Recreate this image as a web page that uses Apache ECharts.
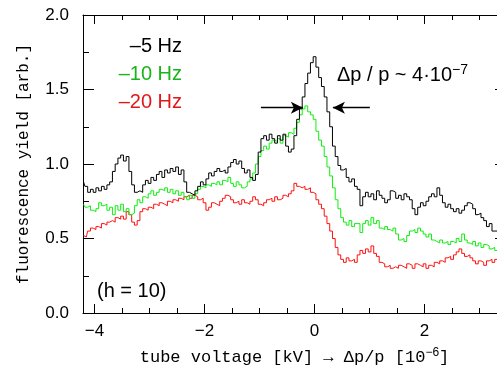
<!DOCTYPE html>
<html>
<head>
<meta charset="utf-8">
<title></title>
<style>
    * { margin: 0; padding: 0; }
    #main { width: 497px; height: 371px; background: #fff; }
</style>
</head>
<body>
<div id="main"></div>
<script src="https://cdn.jsdelivr.net/npm/echarts@6/dist/echarts.min.js"></script>
<script>
// bins of 0.05 kV starting at -4.20
var xStart = -4.20, xStep = 0.05;

var black = [
    0.88, 0.85, 0.81, 0.83, 0.81, 0.84, 0.82, 0.85, 0.83, 0.86,
    0.88, 0.95, 1.00, 1.04, 1.06, 1.02, 1.05, 0.95, 0.86, 0.81,
    0.82, 0.81, 0.86, 0.89, 0.87, 0.91, 0.89, 0.93, 0.95, 0.91,
    0.96, 0.94, 0.97, 0.95, 0.98, 0.93, 0.96, 0.88, 0.81, 0.80,
    0.79, 0.82, 0.85, 0.88, 0.86, 0.90, 0.94, 0.92, 0.95, 0.97,
    0.95, 0.96, 0.94, 0.98, 1.01, 1.03, 1.00, 1.02, 0.97, 0.94,
    0.96, 0.91, 0.89, 0.93, 1.08, 1.17, 1.19, 1.16, 1.20, 1.17,
    1.14, 1.19, 1.16, 1.20, 1.12, 1.08, 1.10, 1.19, 1.30, 1.37,
    1.45, 1.54, 1.61, 1.68, 1.72, 1.65, 1.58, 1.52, 1.45, 1.35,
    1.25, 1.12, 1.05, 0.99, 0.96, 0.97, 0.91, 0.88, 0.90, 0.85,
    0.83, 0.72, 0.78, 0.81, 0.78, 0.80, 0.76, 0.82, 0.79, 0.77,
    0.74, 0.76, 0.82, 0.81, 0.77, 0.79, 0.76, 0.80, 0.78, 0.76,
    0.70, 0.66, 0.71, 0.74, 0.72, 0.75, 0.78, 0.80, 0.78, 0.84,
    0.79, 0.74, 0.71, 0.73, 0.70, 0.68, 0.70, 0.67, 0.69, 0.72,
    0.74, 0.73, 0.70, 0.66, 0.67, 0.64, 0.62, 0.58, 0.60, 0.55,
    0.55, 0.54, 0.56, 0.53
];
var green = [
    0.73, 0.71, 0.72, 0.69, 0.68, 0.70, 0.74, 0.72, 0.73, 0.69,
    0.71, 0.66, 0.72, 0.69, 0.73, 0.68, 0.70, 0.66, 0.67, 0.72,
    0.76, 0.74, 0.78, 0.77, 0.80, 0.82, 0.79, 0.81, 0.83, 0.82,
    0.84, 0.81, 0.83, 0.80, 0.82, 0.79, 0.81, 0.78, 0.76, 0.79,
    0.77, 0.80, 0.83, 0.85, 0.84, 0.86, 0.85, 0.87, 0.86, 0.88,
    0.86, 0.89, 0.88, 0.91, 0.87, 0.85, 0.88, 0.86, 0.84, 0.85,
    0.88, 0.90, 0.94, 1.00, 1.05, 1.09, 1.12, 1.10, 1.14, 1.16,
    1.15, 1.17, 1.14, 1.19, 1.18, 1.21, 1.20, 1.24, 1.28, 1.33,
    1.37, 1.39, 1.35, 1.33, 1.30, 1.22, 1.16, 1.12, 1.05, 0.98,
    0.92, 0.84, 0.76, 0.70, 0.64, 0.61, 0.59, 0.62, 0.58, 0.60,
    0.60, 0.54, 0.60, 0.62, 0.59, 0.64, 0.60, 0.62, 0.57, 0.56,
    0.58, 0.56, 0.55, 0.57, 0.53, 0.49, 0.50, 0.48, 0.52, 0.55,
    0.56, 0.54, 0.57, 0.55, 0.53, 0.51, 0.53, 0.49, 0.48, 0.47,
    0.49, 0.47, 0.48, 0.46, 0.48, 0.47, 0.50, 0.48, 0.53, 0.49,
    0.47, 0.46, 0.48, 0.45, 0.47, 0.44, 0.46, 0.45, 0.43, 0.44,
    0.42, 0.43, 0.44, 0.42
];
var red = [
    0.52, 0.51, 0.55, 0.57, 0.56, 0.58, 0.57, 0.60, 0.59, 0.61,
    0.62, 0.61, 0.64, 0.63, 0.65, 0.63, 0.68, 0.66, 0.61, 0.59,
    0.62, 0.68, 0.70, 0.69, 0.71, 0.70, 0.73, 0.72, 0.74, 0.73,
    0.72, 0.75, 0.74, 0.76, 0.75, 0.77, 0.76, 0.78, 0.79, 0.77,
    0.79, 0.78, 0.76, 0.77, 0.74, 0.69, 0.71, 0.74, 0.73, 0.72,
    0.75, 0.77, 0.79, 0.78, 0.76, 0.74, 0.75, 0.73, 0.76, 0.74,
    0.73, 0.75, 0.78, 0.76, 0.73, 0.72, 0.74, 0.76, 0.77, 0.75,
    0.78, 0.76, 0.77, 0.79, 0.78, 0.80, 0.82, 0.87, 0.85, 0.84,
    0.85, 0.83, 0.84, 0.81, 0.80, 0.76, 0.73, 0.70, 0.65, 0.60,
    0.55, 0.50, 0.44, 0.39, 0.36, 0.34, 0.37, 0.35, 0.36, 0.34,
    0.39, 0.42, 0.40, 0.43, 0.41, 0.45, 0.40, 0.38, 0.34, 0.33,
    0.31, 0.32, 0.30, 0.31, 0.30, 0.32, 0.31, 0.30, 0.33, 0.32,
    0.30, 0.33, 0.32, 0.31, 0.33, 0.30, 0.32, 0.31, 0.34, 0.33,
    0.35, 0.34, 0.37, 0.38, 0.36, 0.39, 0.41, 0.43, 0.40, 0.38,
    0.39, 0.37, 0.35, 0.33, 0.35, 0.34, 0.32, 0.35, 0.36, 0.34,
    0.36, 0.35, 0.37, 0.36
];

var xMajor = [-4, -2, 0, 2];
var xMinor = [-3.5, -3, -2.5, -1.5, -1, -0.5, 0.5, 1, 1.5, 2.5, 3];
var xMin = -4.21, xMax = 3.48;
var yMin = 0, yMax = 2;

// width arrows (data units)
var arrowY = 1.378;
var arrowLeft = [-0.976, -0.213];
var arrowRight = [1.005, 0.333];

function pairs(vals) {
    return vals.map(function (v, i) {
        return [Math.round((xStart + i * xStep) * 100) / 100, v];
    });
}

var sans = '"Liberation Sans", Arial, sans-serif';
var mono = '"Liberation Mono", "DejaVu Sans Mono", monospace';

function xAxisDef(pos, ticks, len, withLine, withLabel) {
    return {
        type: 'value', position: pos, min: xMin, max: xMax,
        axisLine: { show: withLine, onZero: false, lineStyle: { color: '#000', width: 1 } },
        axisTick: { show: true, inside: true, length: len, customValues: ticks,
                    lineStyle: { color: '#000', width: 1 } },
        axisLabel: withLabel ? {
            show: true, customValues: ticks, margin: 10, color: '#000',
            fontFamily: sans, fontSize: 17,
            formatter: function (v) { return String(v).replace('-', '\u2212'); }
        } : { show: false },
        splitLine: { show: false }
    };
}

function yAxisDef(pos, withLabel) {
    return {
        type: 'value', position: pos, min: yMin, max: yMax, interval: 0.5,
        axisLine: { show: true, onZero: false, lineStyle: { color: '#000', width: 1 } },
        axisTick: { show: true, inside: true, length: 11, lineStyle: { color: '#000', width: 1 } },
        minorTick: { show: true, splitNumber: 2, length: 6, lineStyle: { color: '#000', width: 1 } },
        axisLabel: withLabel ? {
            show: true, margin: 14, color: '#000', fontFamily: sans, fontSize: 17,
            formatter: function (v) { return v.toFixed(1); }
        } : { show: false },
        splitLine: { show: false }
    };
}

var myChart = echarts.init(document.getElementById('main'));

var bottomMajor = xAxisDef('bottom', xMajor, 9, true, true);
bottomMajor.name = '{n|tube voltage [kV] \u2192 \u0394p/p [10}{s|\u22126}{n|]}';
bottomMajor.nameLocation = 'middle';
bottomMajor.nameGap = 34;
bottomMajor.nameTextStyle = {
    rich: {
        n: { fontFamily: mono, fontSize: 17, color: '#000', lineHeight: 20 },
        s: { fontFamily: sans, fontSize: 12, color: '#000', verticalAlign: 'top', lineHeight: 20 }
    }
};

var leftAxis = yAxisDef('left', true);
leftAxis.name = 'fluorescence yield [arb.]';
leftAxis.nameLocation = 'middle';
leftAxis.nameGap = 51;
leftAxis.nameTextStyle = { fontFamily: mono, fontSize: 16, color: '#000' };

var option = {
    animation: false,
    backgroundColor: '#fff',
    grid: { left: 83, right: -9, top: 15, bottom: 58, outerBoundsMode: 'none', containLabel: false },
    xAxis: [
        bottomMajor,
        xAxisDef('bottom', xMinor, 5, false, false),
        xAxisDef('top', xMajor, 9, true, false),
        xAxisDef('top', xMinor, 5, false, false)
    ],
    yAxis: [leftAxis, yAxisDef('right', false)],
    series: [
        {
            name: '-20 Hz', type: 'line', step: 'middle', showSymbol: false,
            data: pairs(red), lineStyle: { color: '#ff1010', width: 1 }, z: 3
        },
        {
            name: '-10 Hz', type: 'line', step: 'middle', showSymbol: false,
            data: pairs(green), lineStyle: { color: '#10ee10', width: 1 }, z: 4
        },
        {
            name: '-5 Hz', type: 'line', step: 'middle', showSymbol: false,
            data: pairs(black), lineStyle: { color: '#000', width: 1 }, z: 5,
            markLine: {
                silent: true, symbol: ['none', 'arrow'], symbolSize: [9, 12],
                label: { show: false },
                lineStyle: { color: '#000', width: 1.3, type: 'solid' },
                data: [
                    [{ coord: [arrowLeft[0], arrowY] }, { coord: [arrowLeft[1], arrowY] }],
                    [{ coord: [arrowRight[0], arrowY] }, { coord: [arrowRight[1], arrowY] }]
                ]
            }
        }
    ],
    graphic: [
        { type: 'text', x: 182, y: 46, style: { text: '\u20135 Hz', font: '20px ' + sans, fill: '#000', align: 'right', verticalAlign: 'middle' } },
        { type: 'text', x: 182, y: 74, style: { text: '\u201310 Hz', font: '20px ' + sans, fill: '#19b419', align: 'right', verticalAlign: 'middle' } },
        { type: 'text', x: 182, y: 102, style: { text: '\u201320 Hz', font: '20px ' + sans, fill: '#e01818', align: 'right', verticalAlign: 'middle' } },
        { type: 'text', x: 97, y: 291, style: { text: '(h = 10)', font: '20px ' + sans, fill: '#000', verticalAlign: 'middle' } },
        {
            type: 'text', x: 337, y: 63,
            style: {
                text: '{a|\u0394p / p ~ 4\u00b710}{s|\u22127}',
                fill: '#000',
                rich: {
                    a: { font: '20px ' + sans, fill: '#000', lineHeight: 22, verticalAlign: 'bottom' },
                    s: { font: '14px ' + sans, fill: '#000', lineHeight: 22, verticalAlign: 'top' }
                }
            }
        }
    ]
};
myChart.setOption(option);
</script>
</body>
</html>
